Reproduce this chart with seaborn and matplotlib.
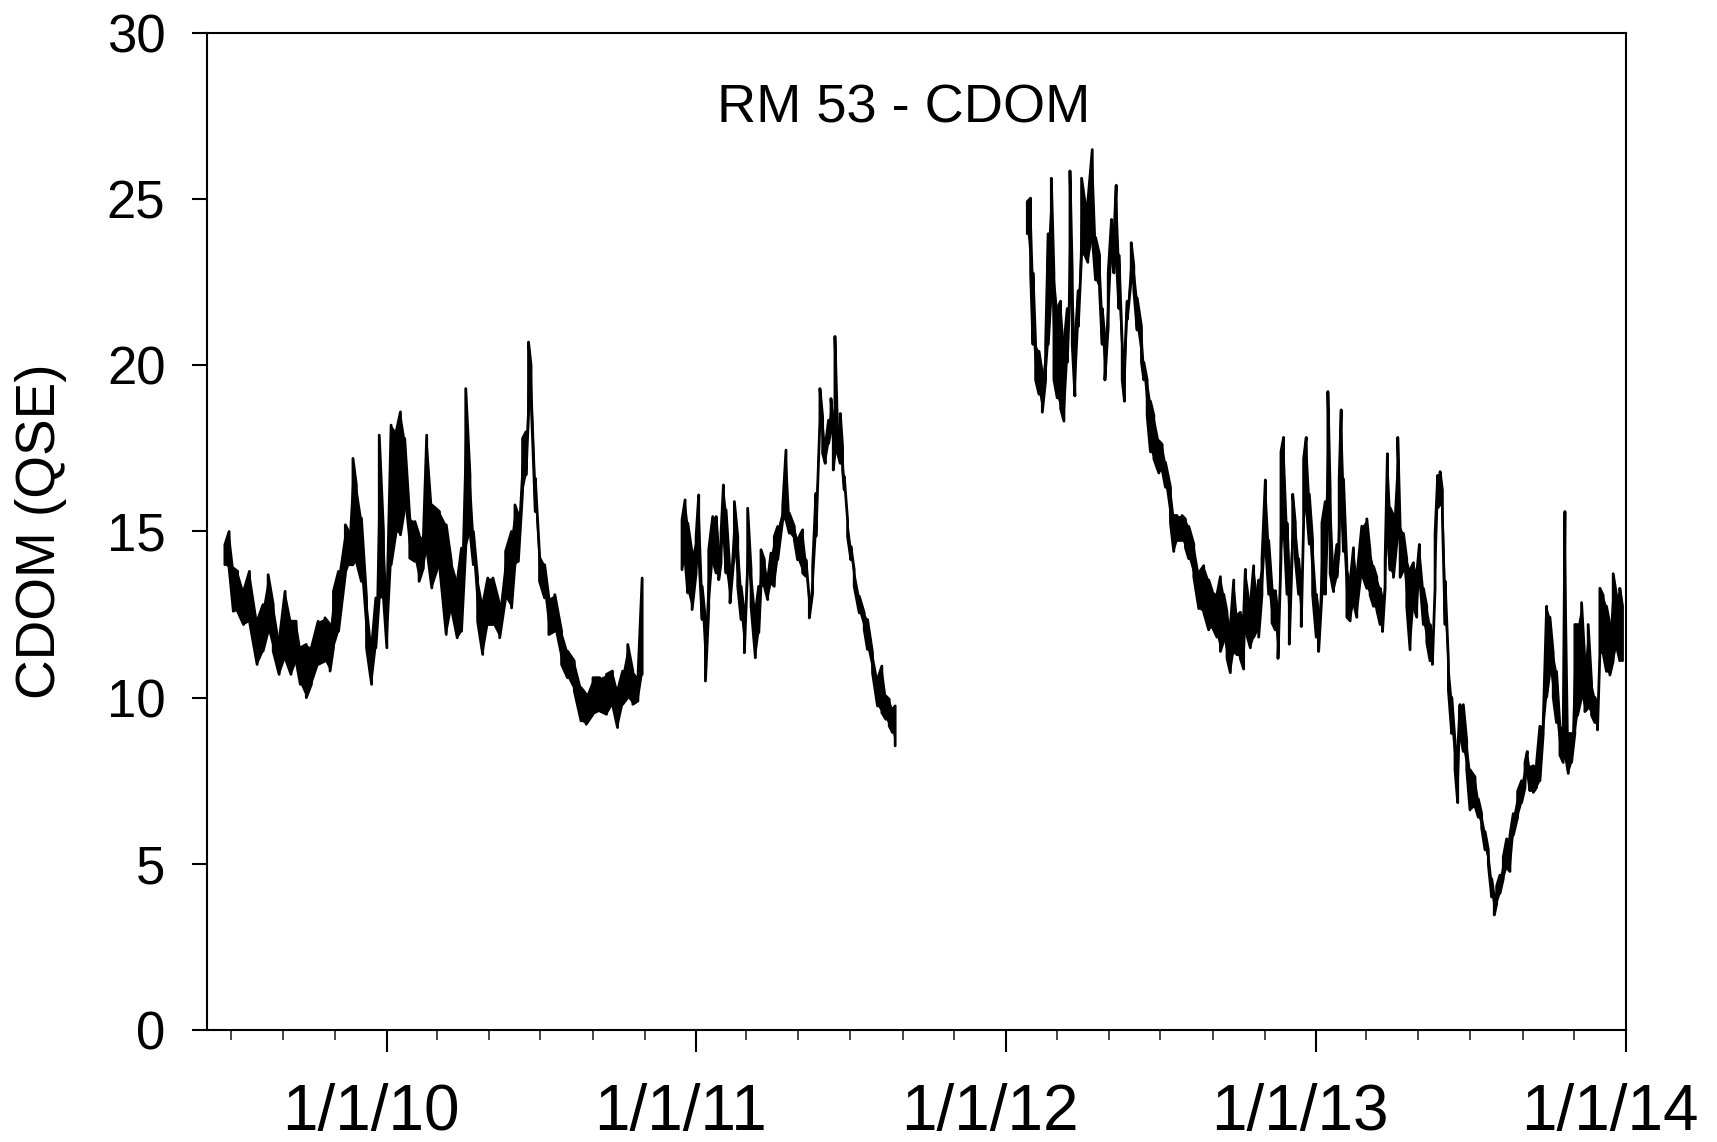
import numpy as np
import pandas as pd
import matplotlib
matplotlib.use("Agg")
import matplotlib.pyplot as plt
import matplotlib.dates as mdates
import matplotlib.ticker as mticker
import matplotlib.transforms as mtransforms
import seaborn as sns

# CDOM record at RM 53, days counted from 2010-01-01.
# Each reading gives the low and high of the sensor trace around that day.
deploy1_day = [-191, -186, -181, -176, -169, -162, -153, -146, -140, -134, -127, -120,
               -113, -107, -102, -95, -89, -81, -73, -67, -63, -57, -49, -45, -40, -36,
               -30, -24, -18, -13, -9, -4, 0, 5, 11, 16, 21, 27, 33, 38, 43, 47, 53, 62,
               70, 76, 83, 88, 93, 98, 102, 107, 113, 119, 125, 133, 140, 147, 151, 155,
               160, 164, 167, 170, 175, 180, 186, 191, 198, 206, 213, 221, 229, 235, 243,
               251, 259, 266, 272, 278, 284, 290, 296, 301]
deploy1_lo = [14.0, 13.9, 12.6, 12.6, 12.2, 12.3, 11.0, 11.4, 12.0, 11.4, 10.7, 11.2,
              10.7, 11.1, 10.4, 10.0, 10.4, 11.0, 11.1, 10.8, 11.5, 12.0, 13.7, 14.0, 14.0, 14.1,
              13.5, 11.5, 10.4, 11.5, 13.0, 13.0, 11.5, 14.0, 15.0, 14.9, 15.7, 14.2, 14.1, 13.5, 13.9, 14.5, 13.3, 14.0,
              11.9, 12.7, 11.8, 12.0, 14.5, 15.0, 14.0, 12.3, 11.3, 12.2, 12.2, 11.8, 13.0, 12.7, 14.0, 14.1,
              16.2, 16.7, 18.5, 19.0, 15.6, 13.5, 13.0, 11.9, 12.0, 11.0, 10.6, 10.2, 9.3, 9.2, 9.5,
              9.6, 9.5, 9.8, 9.1, 9.8, 10.0, 9.8, 9.9, 10.7]
deploy1_hi = [14.6, 15.0, 13.9, 13.8, 13.2, 13.8, 12.3, 12.8, 13.7, 12.8, 11.7, 13.2,
              12.3, 12.3, 11.5, 11.6, 11.5, 12.3, 12.4, 12.2, 13.2, 13.8, 15.2, 15.0, 17.2, 16.4,
              15.4, 13.0, 11.5, 13.0, 17.9, 15.0, 12.8, 18.2, 18.0, 18.6, 17.8, 15.4, 15.3, 14.9, 14.8, 17.9, 15.8, 15.6,
              15.2, 14.1, 13.5, 14.5, 19.3, 16.7, 15.0, 13.6, 12.8, 13.6, 13.6, 12.8, 14.4, 15.0, 15.8, 15.5,
              17.8, 18.0, 20.7, 20.0, 16.6, 14.3, 14.0, 13.0, 13.1, 12.0, 11.4, 11.1, 10.3, 10.1, 10.6,
              10.6, 10.7, 10.8, 10.2, 10.8, 11.6, 10.8, 10.6, 13.6]

deploy2_day = [348, 351.6, 354.8, 359.9, 364.6, 367.7, 371.7, 375.6, 379.5, 384.2, 388.2, 391.3,
               394.0, 396.8, 399.9, 404.6, 409.7, 413.7, 417.6, 421.5, 425.4, 429.4, 434.5, 438.4,
               441.1, 445.1, 449.0, 452.9, 456.8, 460.8, 466.7, 470.6, 474.5, 480.4, 484.3, 490.2,
               494.1, 498.1, 502.0, 505.9, 510.6, 513.8, 516.9, 520.8, 523.6, 526.3, 528.3, 531.4,
               534.6, 537.3, 539.3, 543.2, 547.1, 551.0, 557.0, 562.8, 566.7, 572.6, 578.5, 583.6,
               588.3, 592.3, 596.2, 599.3]
deploy2_lo = [13.85, 14.15, 13.15, 12.65, 13.75, 14.35, 12.35, 10.5, 12.65, 14.15, 13.75, 13.55,
              14.05, 15.15, 13.75, 12.85, 14.35, 13.35, 12.35, 11.35, 13.95, 12.75, 11.2, 11.95,
              13.35, 13.35, 12.95, 13.45, 13.35, 14.15, 15.35, 15.35, 14.95, 14.75, 14.15, 13.75,
              13.65, 12.4, 13.15, 14.85, 18.35, 17.35, 17.05, 17.65, 18.05, 16.85, 17.35, 17.35,
              17.05, 16.85, 16.25, 14.85, 14.15, 13.35, 12.55, 12.05, 11.45, 10.75, 9.75, 9.55,
              9.35, 9.15, 8.95, 8.55]
deploy2_hi = [15.35, 15.95, 15.25, 14.35, 14.85, 16.1, 13.35, 12.35, 14.45, 15.45, 15.45, 14.35,
              14.95, 16.4, 15.65, 13.75, 15.9, 14.85, 13.35, 12.55, 15.7, 13.85, 12.55, 13.35,
              14.45, 14.15, 13.55, 14.35, 14.85, 15.15, 15.75, 17.45, 15.55, 15.15, 14.75, 15.05,
              14.15, 12.95, 13.95, 16.15, 19.3, 18.45, 17.55, 18.35, 19.0, 18.15, 20.87, 18.05,
              18.55, 17.55, 16.65, 15.35, 14.55, 13.85, 13.05, 12.55, 12.35, 11.35, 10.55, 10.95,
              10.05, 9.95, 9.65, 9.75]

deploy3_day = [755.1, 759.0, 761.8, 764.9, 768.9, 772.8, 776.7, 779.8, 783.4, 786.5, 790.4, 794.4,
               798.3, 802.2, 805.4, 808.1, 811.2, 815.2, 819.1, 823.0, 826.5, 831.7, 835.6, 840.3,
               843.4, 846.6, 850.5, 854.4, 857.2, 859.9, 863.1, 867.0, 869.7, 872.9, 877.6, 880.7,
               884.6, 889.7, 892.5, 896.4, 900.3, 904.3, 910.2, 914.1, 918.0, 923.9, 927.8, 931.7,
               937.6, 941.6, 945.5, 951.4, 957.3, 963.1, 969.0, 973.0, 978.8, 982.8, 986.7, 990.6,
               994.5, 998.5, 1002.4, 1006.3, 1010.2, 1012.2, 1018.1, 1022.0, 1025.9, 1027.9, 1031.8, 1035.8,
               1039.7, 1043.6, 1047.5, 1050.7, 1054.2, 1057.3, 1061.3, 1064.0, 1068.0, 1071.1, 1075.0, 1078.1,
               1080.9, 1084.0, 1087.6, 1091.5, 1095.8, 1098.6, 1102.5, 1106.4, 1109.5, 1112.2, 1116.2, 1120.1,
               1122.8, 1125.2, 1127.9, 1131.9, 1135.8, 1139.7, 1143.6, 1149.5, 1155.4, 1159.3, 1163.3, 1167.2,
               1171.1, 1173.9, 1177.0, 1179.7, 1182.9, 1186.8, 1191.9, 1194.7, 1198.6, 1202.5, 1206.4, 1210.4,
               1214.3, 1217.4, 1222.1, 1226.1, 1230.0, 1232.7, 1235.9, 1239.0, 1241.8, 1244.5, 1247.7, 1251.6,
               1255.5, 1259.4, 1262.6, 1265.3, 1269.2, 1273.2, 1277.1, 1283.0, 1286.9, 1290.8, 1294.8, 1298.7,
               1302.6, 1305.7, 1308.5, 1312.4, 1316.3, 1320.3, 1324.2, 1328.1, 1333.2, 1337.9, 1341.9, 1344.6,
               1347.7, 1351.7, 1355.6, 1359.5, 1363.4, 1367.4, 1371.3, 1375.2, 1379.1, 1383.1, 1387.0, 1389.0,
               1392.9, 1396.8, 1400.7, 1403.9, 1408.6, 1412.5, 1416.4, 1420.4, 1424.3, 1427.4, 1430.2, 1434.1,
               1438.0, 1442.0, 1445.9, 1449.8, 1453.7, 1456.9]
deploy3_lo = [23.96, 22.78, 20.63, 19.56, 19.13, 18.59, 19.56, 20.63, 22.25, 19.56, 19.02, 18.70,
              18.32, 20.09, 22.25, 20.63, 19.08, 21.17, 23.32, 23.32, 23.10, 23.85, 22.57, 22.25,
              20.63, 19.56, 21.17, 23.32, 22.78, 23.32, 21.71, 19.56, 18.92, 21.38, 22.57, 22.25,
              21.06, 20.09, 19.56, 18.49, 17.40, 17.19, 16.76, 16.87, 16.33, 15.26, 14.40, 14.73,
              14.73, 14.51, 14.18, 13.64, 12.68, 12.57, 12.04, 12.14, 11.82, 11.39, 11.72, 11.18,
              10.75, 11.39, 11.29, 11.18, 10.86, 12.04, 11.50, 11.82, 12.04, 11.82, 13.11, 14.73,
              13.11, 12.25, 12.04, 11.18, 14.18, 15.26, 13.11, 11.61, 14.73, 14.18, 13.11, 12.14,
              15.26, 15.80, 14.62, 13.11, 11.82, 11.39, 13.11, 13.11, 15.49, 13.73, 13.19, 13.62,
              14.40, 16.03, 14.40, 12.42, 12.31, 12.86, 12.42, 13.73, 13.29, 13.08, 12.75, 12.64,
              12.20, 11.99, 13.29, 14.94, 13.84, 13.62, 14.94, 13.62, 13.84, 12.75, 11.44, 12.75,
              12.42, 13.73, 12.20, 11.66, 11.11, 11.00, 13.29, 15.71, 15.81, 15.49, 12.20, 10.23,
              8.92, 7.83, 6.84, 8.92, 8.38, 7.83, 6.62, 6.74, 6.40, 6.08, 5.42, 4.98,
              4.00, 3.46, 3.79, 4.11, 4.55, 4.88, 4.77, 5.86, 6.40, 6.84, 7.29, 7.83,
              7.20, 7.15, 7.30, 7.50, 8.92, 10.01, 10.79, 10.01, 9.25, 8.27, 8.05, 8.38,
              7.72, 8.05, 8.92, 9.47, 10.01, 9.58, 9.69, 9.47, 9.25, 9.03, 11.33, 11.33,
              10.79, 10.68, 11.11, 11.55, 11.11, 11.11]
deploy3_hi = [24.93, 25.03, 22.78, 20.63, 20.42, 19.77, 20.63, 23.96, 25.63, 22.78, 21.71, 21.93,
              20.63, 21.71, 25.85, 22.78, 20.63, 22.25, 25.63, 24.93, 24.93, 26.49, 23.85, 23.32,
              21.71, 20.84, 22.78, 24.39, 23.85, 25.42, 23.32, 20.63, 20.09, 21.93, 23.69, 23.00,
              22.03, 21.17, 20.09, 19.56, 18.92, 18.49, 17.73, 17.62, 17.08, 16.33, 15.48, 15.48,
              15.48, 15.37, 15.15, 14.62, 13.75, 13.97, 13.54, 13.22, 13.11, 13.64, 13.11, 12.57,
              12.14, 13.54, 12.47, 12.57, 12.47, 13.86, 12.79, 13.97, 13.11, 13.54, 14.18, 16.55,
              14.73, 13.32, 13.22, 12.57, 17.40, 17.83, 15.26, 13.64, 16.12, 15.26, 14.18, 13.32,
              17.19, 17.83, 16.12, 14.73, 13.11, 12.57, 15.26, 15.90, 19.21, 16.25, 13.84, 14.61,
              16.58, 18.66, 16.58, 13.95, 13.51, 14.51, 13.62, 15.16, 15.38, 14.40, 13.95, 13.62,
              13.29, 12.97, 14.17, 17.34, 15.71, 15.49, 17.83, 15.16, 14.94, 14.17, 13.84, 14.06,
              13.73, 14.61, 13.29, 12.75, 12.20, 11.66, 14.94, 16.69, 16.80, 16.25, 13.51, 11.11,
              10.01, 8.70, 8.38, 9.79, 9.79, 8.70, 7.83, 7.61, 6.95, 6.51, 5.97, 5.42,
              4.55, 4.00, 4.33, 4.66, 5.20, 5.75, 5.86, 6.51, 7.18, 7.50, 8.05, 8.38,
              7.90, 7.95, 8.05, 9.14, 9.25, 12.75, 12.42, 11.33, 10.79, 9.14, 9.14, 15.60,
              8.92, 8.92, 12.20, 12.20, 12.86, 11.11, 12.20, 10.45, 10.01, 9.58, 13.29, 13.08,
              12.75, 12.20, 13.73, 13.08, 13.29, 12.75]

year_ticks = ["2010-01-01", "2011-01-01", "2012-01-01", "2013-01-01", "2014-01-01"]
y_ticks = [0, 5, 10, 15, 20, 25, 30]

sns.set_style("ticks")
plt.rcParams["font.family"] = ["Liberation Sans", "DejaVu Sans"]

fig = plt.figure(figsize=(17.17, 11.42), dpi=100)
ax = fig.add_axes([0.1206, 0.0981, 0.8264, 0.8730])

origin = pd.Timestamp("2010-01-01")
deployments = [(deploy1_day, deploy1_lo, deploy1_hi),
               (deploy2_day, deploy2_lo, deploy2_hi),
               (deploy3_day, deploy3_lo, deploy3_hi)]

for day, lo, hi in deployments:
    t = origin + pd.to_timedelta(np.asarray(day, dtype=float), unit="D")
    ax.fill_between(t.values, lo, hi, color="black", linewidth=0)
    # trace the reading range as an up/down path
    xs, ys = [], []
    for i, (ti, l, h) in enumerate(zip(t, lo, hi)):
        pair = (l, h) if i % 2 == 0 else (h, l)
        xs += [ti, ti]
        ys += list(pair)
    df = pd.DataFrame({"date": xs, "cdom": ys})
    sns.lineplot(data=df, x="date", y="cdom", ax=ax, color="black",
                 linewidth=2.0, estimator=None, sort=False)

ax.set_xlim(pd.Timestamp("2009-06-03"), pd.Timestamp("2014-01-01"))
ax.set_ylim(0, 30)
ax.set_yticks(y_ticks)
ax.set_xticks(pd.to_datetime(year_ticks))
ax.xaxis.set_minor_locator(mdates.MonthLocator(bymonth=[1, 3, 5, 7, 9, 11]))
ax.xaxis.set_major_formatter(mticker.FuncFormatter(
    lambda v, pos: (lambda d: f"{d.month}/{d.day}/{d:%y}")(mdates.num2date(v))))

for side in ["left", "right", "top", "bottom"]:
    ax.spines[side].set_linewidth(1.5)
    ax.spines[side].set_color("black")

ax.tick_params(axis="y", which="major", direction="out", length=11, width=1.5,
               labelsize=38, pad=19, colors="black")
ax.tick_params(axis="x", which="major", direction="out", length=16, width=1.5,
               labelsize=46, pad=22, colors="black")
ax.tick_params(axis="x", which="minor", direction="out", length=7.5, width=1.2)

shift = mtransforms.ScaledTranslation(-0.16, 0, fig.dpi_scale_trans)
for lab in ax.get_xticklabels():
    lab.set_transform(lab.get_transform() + shift)

ax.set_xlabel("")
ax.set_ylabel("CDOM (QSE)", fontsize=39.5, color="black")
ax.yaxis.set_label_coords(-0.0985, 0.5)

ax.text(0.491, 0.91, "RM 53 - CDOM", transform=ax.transAxes, ha="center",
        va="baseline", fontsize=39, color="black")

fig.savefig("out.png", dpi=100, facecolor="white")
